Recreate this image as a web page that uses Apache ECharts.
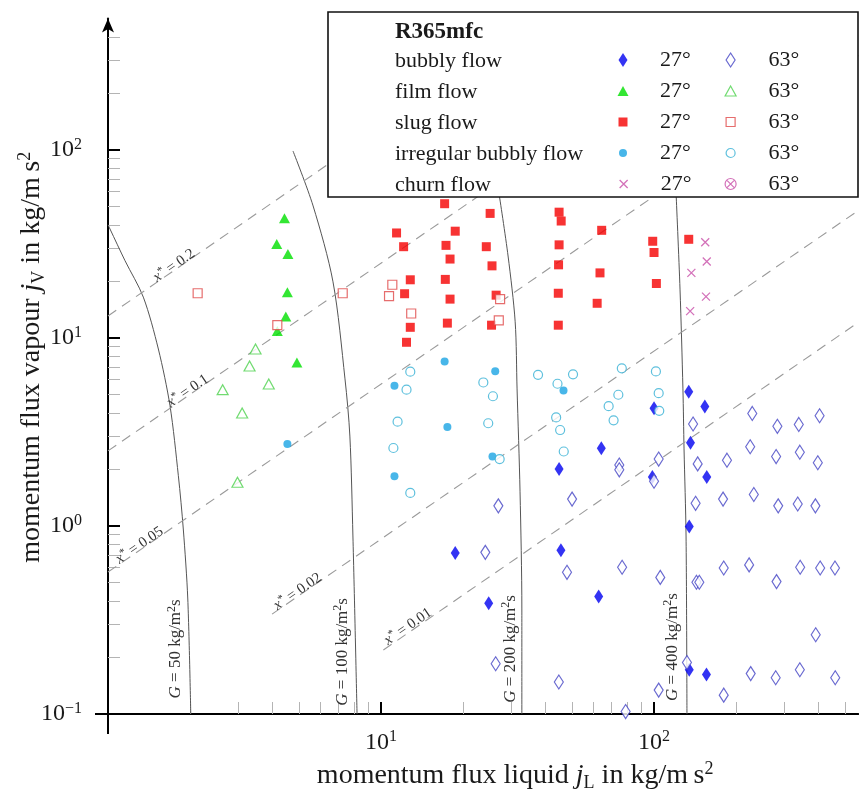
<!DOCTYPE html>
<html><head><meta charset="utf-8">
<script src="https://cdn.jsdelivr.net/npm/echarts@6.0.0/dist/echarts.min.js"></script>
<style>html,body{margin:0;padding:0;background:#fff;}#chart{width:859px;height:794px;}</style>
</head><body><div id="chart"></div>
<script>
// ---------------- data (jL, jV) ----------------
const bubbly27 = [[100,4.23],[64.1,2.59],[44.9,2.01],[98.6,1.82],[18.7,0.718],[45.6,0.743],[62.7,0.422],[24.8,0.388],[134,5.18],[153.5,4.32],[136,2.77],[156,1.82],[134.6,0.994],[134.6,0.172],[155.6,0.162]];
const bubbly63 = [[74.6,2.11],[74.6,1.99],[104,2.27],[100,1.73],[26.9,1.28],[50.1,1.39],[24.1,0.724],[48.0,0.567],[76.4,0.603],[105.4,0.533],
  [139,3.49],[229,3.97],[283,3.39],[339,3.47],[404,3.86],[225,2.64],[144.5,2.14],[185,2.24],[280,2.34],[342,2.47],[398,2.17],
  [142,1.32],[179,1.39],[232,1.47],[285,1.28],[336,1.31],[390,1.28],[180,0.598],[223,0.621],[343,0.603],[406,0.598],[460,0.598],
  [143,0.502],[146.5,0.502],[281,0.506],[391,0.264],[132,0.188],[226,0.164],[279,0.156],[342,0.172],[461,0.156],[180,0.126],
  [26.3,0.185],[44.8,0.148],[78.7,0.103],[104,0.134]];
const film27 = [[4.43,43.4],[4.15,31.6],[4.56,28.0],[4.54,17.5],[4.48,13.0],[4.17,10.9],[4.92,7.4]];
const film63 = [[3.47,8.74],[3.30,7.10],[2.63,5.31],[3.88,5.69],[3.10,3.99],[2.98,1.71]];
const slug27 = [[17.1,51.8],[25.1,46.0],[44.9,46.7],[45.7,41.9],[11.4,36.2],[18.7,37.0],[64.3,37.4],[12.1,30.6],[17.3,31.1],[24.3,30.6],
  [44.9,31.3],[98.9,32.7],[100,28.5],[134,33.5],[17.9,26.3],[25.5,24.2],[44.7,24.5],[63.4,22.2],[12.8,20.4],[17.2,20.5],[102,19.5],
  [12.2,17.2],[17.9,16.1],[26.4,16.9],[44.6,17.3],[61.9,15.3],[12.8,11.4],[17.5,12.0],[25.4,11.7],[44.6,11.7],[12.4,9.49]];
const slug63 = [[2.13,17.3],[7.24,17.3],[4.17,11.7],[11.0,19.2],[10.7,16.7],[12.9,13.5],[27.3,16.1],[27.0,12.4]];
const irregular27 = [[17.1,7.50],[26.2,6.66],[11.2,5.57],[17.5,3.36],[25.6,2.34],[11.2,1.84],[46.6,5.25],[4.54,2.73]];
const irregular63 = [[12.8,6.62],[23.7,5.80],[37.6,6.37],[44.3,5.71],[50.5,6.41],[76.2,6.90],[101.6,6.64],[12.4,5.31],[25.7,4.90],
  [11.5,3.59],[24.7,3.52],[11.1,2.60],[27.2,2.27],[12.8,1.50],[74.0,4.99],[104,5.09],[68.2,4.34],[104.5,4.10],[71.1,3.65],
  [43.8,3.78],[45.3,3.24],[46.7,2.49]];
const churn27 = [[154,32.3],[156,25.5],[137,22.2],[155,16.6],[135.6,13.9]];
const churn63 = [];

// constant mass flux curves
const gValues = ['50', '100', '200', '400'];
const curveG50  = [[1.0,40.0],[1.017,38.0],[1.154,25.8],[1.347,16.5],[1.529,8.74],[1.687,4.36],[1.810,1.852],[1.887,0.964],[1.96,0.409],[2.01,0.1]];
const curveG100 = [[4.76,98.8],[5.64,50.4],[6.67,19.9],[7.38,6.06],[7.69,3.01],[7.89,0.885],[8.17,0.1]];
const curveG200 = [[27.1,57.7],[29.2,27.3],[31.0,12.2],[31.5,5.36],[32.3,1.52],[32.8,0.362],[32.8,0.1]];
const curveG400 = [[120.5,57.7],[124.5,18.2],[127.6,5.36],[128.8,2.57],[131,0.885],[132,0.1]];
const gLabelAnchors = [[1.77,0.222],[7.20,0.214],[29.7,0.222],[116.5,0.227]];

// constant quality lines
const xStarValues = ['0.2', '0.1', '0.05', '0.02', '0.01'];
const lineX02  = [[1,13.1],[6.50,85.3]];
const lineX01  = [[1,2.51],[23.1,57.7]];
const lineX005 = [[1,0.569],[564,320]];
const lineX002 = [[3.99,0.340],[564,48.0]];
const lineX001 = [[10.2,0.219],[564,12.2]];
const xStarLabelAnchors = [[1.78,23.3],[2.0,5.02],[1.33,0.758],[5.05,0.430],[12.8,0.280]];

// axes
const xMajorTicks = [1, 10, 100];
const xTickLabels = [10, 100];
const xMinorTicks = [2,3,4,5,6,7,8,9,20,30,40,50,60,70,80,90,200,300,400,500];
const yMajorTicks = [0.1, 1, 10, 100];
const yTickLabels = [0.1, 1, 10, 100];
const yMinorTicks = [0.2,0.3,0.4,0.5,0.6,0.7,0.8,0.9,2,3,4,5,6,7,8,9,20,30,40,50,60,70,80,90,200,300,400];
const legendRows = ['bubbly flow', 'film flow', 'slug flow', 'irregular bubbly flow', 'churn flow'];
const legendCols = ['27°', '63°'];

// ---------------- styling ----------------
const FONT = 'Liberation Serif, serif';
const TXT = '#1a1a1a';
const CROSS = 'path://M0,0L10,10M10,0L0,10';
const OTIMES = 'path://M10,5A5,5,0,1,1,0,5A5,5,0,1,1,10,5ZM1.46,1.46L8.54,8.54M8.54,1.46L1.46,8.54';

const scatterDefs = [
  {name:'bubbly flow 27°', data:bubbly27, symbol:'diamond', size:[9,14], color:'#0000f0', kind:'fill', row:0, col:0},
  {name:'bubbly flow 63°', data:bubbly63, symbol:'diamond', size:[9,14], color:'#4444c4', kind:'open', row:0, col:1},
  {name:'film flow 27°', data:film27, symbol:'triangle', size:[11,10], color:'#00e000', kind:'fill', row:1, col:0},
  {name:'film flow 63°', data:film63, symbol:'triangle', size:[11,10], color:'#4ed24e', kind:'open', row:1, col:1},
  {name:'slug flow 27°', data:slug27, symbol:'rect', size:[9,9], color:'#f50000', kind:'fill', row:2, col:0},
  {name:'slug flow 63°', data:slug63, symbol:'rect', size:[9,9], color:'#e04848', kind:'open', row:2, col:1},
  {name:'irregular bubbly flow 27°', data:irregular27, symbol:'circle', size:[8,8], color:'#1aa4e4', kind:'fill', row:3, col:0},
  {name:'irregular bubbly flow 63°', data:irregular63, symbol:'circle', size:[9,9], color:'#36b0d4', kind:'open', row:3, col:1},
  {name:'churn flow 27°', data:churn27, symbol:CROSS, size:[8,8], color:'#c84ea8', kind:'stroke', row:4, col:0},
  {name:'churn flow 63°', data:churn63, symbol:OTIMES, size:[11,11], color:'#c84ea8', kind:'open', row:4, col:1}
];
function itemStyleOf(d) {
  if (d.kind === 'open') return {color:'#fff', borderColor:d.color, borderWidth:1.2};
  if (d.kind === 'stroke') return {color:d.color, borderColor:d.color, borderWidth:1.3};
  return {color:d.color, borderWidth:0};
}

function pow10Label(v) {
  const e = Math.round(Math.log10(v));
  return '{b|10}{s|' + (e < 0 ? '\u2212' + (-e) : e) + '}';
}
const tickRich = {
  b:{fontFamily:FONT, fontSize:24, color:TXT, lineHeight:27},
  s:{fontFamily:FONT, fontSize:16, color:TXT, lineHeight:15, verticalAlign:'top'}
};
const nameRich = {
  n:{fontFamily:FONT, fontSize:28, color:TXT, lineHeight:32},
  i:{fontFamily:FONT, fontSize:28, color:TXT, lineHeight:32, fontStyle:'italic'},
  sub:{fontFamily:FONT, fontSize:18, color:TXT, lineHeight:15, verticalAlign:'bottom'},
  sup:{fontFamily:FONT, fontSize:18, color:TXT, lineHeight:23, verticalAlign:'top'}
};

const XMIN = 1, XMAX = 560, YMIN = 0.1, YMAX = 500;

// legend layout
const rowCenters = [61, 92, 123, 154, 185];
const iconCenters = [623, 730];
const textStarts = [660, 768];
const legends = scatterDefs.map(d => {
  const w = d.size[0], h = d.size[1];
  const gap = textStarts[d.col] - iconCenters[d.col] - w / 2 - 5;
  return {
    show:true, data:[d.name], selectedMode:false, padding:0, itemGap:0, z:20,
    left: iconCenters[d.col] - w / 2, top: rowCenters[d.row] - 12,
    itemWidth:w, itemHeight:h, symbolKeepAspect:true,
    itemStyle:{borderWidth: itemStyleOf(d).borderWidth},
    formatter: () => '{g|}{t|' + legendCols[d.col] + '}',
    textStyle:{rich:{g:{width:gap, lineHeight:24}, t:{fontFamily:FONT, fontSize:22, color:TXT, lineHeight:24}}}
  };
});

const series = [];
[curveG50, curveG100, curveG200, curveG400].forEach(c => series.push({
  type:'line', data:c, symbol:'none', showSymbol:false, smooth:0.3, silent:true, z:1,
  lineStyle:{color:'#555', width:1}
}));
const xStarLines = [lineX02, lineX01, lineX005, lineX002, lineX001];
xStarLines.forEach(l => series.push({
  type:'line', data:l, symbol:'none', showSymbol:false, silent:true, z:1,
  lineStyle:{color:'#9a9a9a', width:1.1, type:[10,7]}
}));
scatterDefs.forEach(d => series.push({
  type:'scatter', name:d.name, data:d.data, symbol:d.symbol, symbolSize:d.size, symbolKeepAspect:true,
  itemStyle:itemStyleOf(d), silent:true, z:3
}));
function lblRich(fs) {
  return {
    i:{fontFamily:FONT, fontSize:fs, fontStyle:'italic', fill:'#333', lineHeight:fs + 3},
    n:{fontFamily:FONT, fontSize:fs, fill:'#333', lineHeight:fs + 3},
    s:{fontFamily:FONT, fontSize:Math.round(fs * 0.72), fill:'#333', lineHeight:Math.round(fs * 0.8), verticalAlign:'top'}
  };
}
series.push({
  type:'custom', coordinateSystem:'cartesian2d', data:gLabelAnchors, silent:true, z:4, clip:false,
  renderItem:(params, api) => {
    const p = api.coord([api.value(0), api.value(1)]);
    return {type:'text', x:p[0], y:p[1], rotation:Math.PI / 2,
      style:{text:'{i|G}{n| = ' + gValues[params.dataIndex] + ' kg/m}{s|2}{n|s}', rich:lblRich(17), align:'center', verticalAlign:'middle', fill:'#333'}};
  }
});
series.push({
  type:'custom', coordinateSystem:'cartesian2d', data:xStarLabelAnchors, silent:true, z:4, clip:false,
  renderItem:(params, api) => {
    const i = params.dataIndex;
    const p = api.coord([api.value(0), api.value(1)]);
    const a = api.coord(xStarLines[i][0]), b = api.coord(xStarLines[i][1]);
    const ang = Math.atan2(-(b[1] - a[1]), b[0] - a[0]);
    const off = 4;
    return {type:'text', x:p[0] - off * Math.sin(ang), y:p[1] - off * Math.cos(ang), rotation:ang,
      style:{text:'{i|x}{s|*}{n| = ' + xStarValues[i] + '}', rich:lblRich(15), align:'center', verticalAlign:'middle', fill:'#333'}};
  }
});

const option = {
  animation:false,
  backgroundColor:'#fff',
  grid:{left:108, right:0.7, top:18.6, bottom:80, containLabel:false, outerBoundsMode:'none'},
  xAxis:[{
    type:'log', logBase:10, min:XMIN, max:XMAX, position:'bottom',
    axisLine:{show:true, lineStyle:{color:'#000', width:2}},
    axisTick:{show:true, inside:true, length:12, lineStyle:{color:'#000', width:2}, customValues:xMajorTicks},
    axisLabel:{show:true, customValues:xTickLabels, formatter:pow10Label, margin:15, rich:tickRich},
    splitLine:{show:false},
    name:'{n|momentum flux liquid }{i|j}{sub|L}{n| in kg/m\u2009s}{sup|2}',
    nameLocation:'middle', nameGap:46, nameMoveOverlap:false, nameTextStyle:{rich:nameRich, padding:[0,0,0,64]}
  },{
    type:'log', logBase:10, min:XMIN, max:XMAX, position:'bottom',
    axisLine:{show:false},
    axisTick:{show:true, inside:true, length:12, lineStyle:{color:'#b4b4b4', width:1}, customValues:xMinorTicks},
    axisLabel:{show:false}, splitLine:{show:false}
  }],
  yAxis:[{
    type:'log', logBase:10, min:YMIN, max:YMAX, position:'left',
    axisLine:{show:true, symbol:['none','arrow'], symbolSize:[9,14], lineStyle:{color:'#000', width:2}},
    axisTick:{show:true, inside:true, length:12, lineStyle:{color:'#000', width:2}, customValues:yMajorTicks},
    axisLabel:{show:true, customValues:yTickLabels, formatter:pow10Label, margin:26, rich:tickRich},
    splitLine:{show:false},
    name:'{n|momentum flux vapour }{i|j}{sub|V}{n| in kg/m\u2009s}{sup|2}',
    nameLocation:'middle', nameRotate:90, nameGap:60, nameMoveOverlap:false, nameTextStyle:{rich:nameRich, padding:[0,0,0,18]}
  },{
    type:'log', logBase:10, min:YMIN, max:YMAX, position:'left',
    axisLine:{show:false},
    axisTick:{show:true, inside:true, length:12, lineStyle:{color:'#b4b4b4', width:1}, customValues:yMinorTicks},
    axisLabel:{show:false}, splitLine:{show:false}
  }],
  legend:legends,
  graphic:[
    {type:'line', z:5, shape:{x1:108, y1:713, x2:108, y2:734}, style:{stroke:'#000', lineWidth:2}},
    {type:'line', z:5, shape:{x1:95, y1:714, x2:109, y2:714}, style:{stroke:'#000', lineWidth:2}},
    {type:'rect', z:10, shape:{x:328, y:12, width:530, height:185}, style:{fill:'#fff', stroke:'#111', lineWidth:1.6}},
    {type:'text', z:11, x:395, y:32, style:{text:'R365mfc', font:'bold 23px Liberation Serif', fill:TXT, verticalAlign:'middle'}}
  ].concat(legendRows.map((r, k) => ({
    type:'text', z:11, x:395, y:rowCenters[k], style:{text:r, font:'22px Liberation Serif', fill:TXT, verticalAlign:'middle'}
  }))),
  series:series
};

const chart = echarts.init(document.getElementById('chart'), null, {renderer:'canvas', width:859, height:794});
chart.setOption(option);
</script>
</body></html>
